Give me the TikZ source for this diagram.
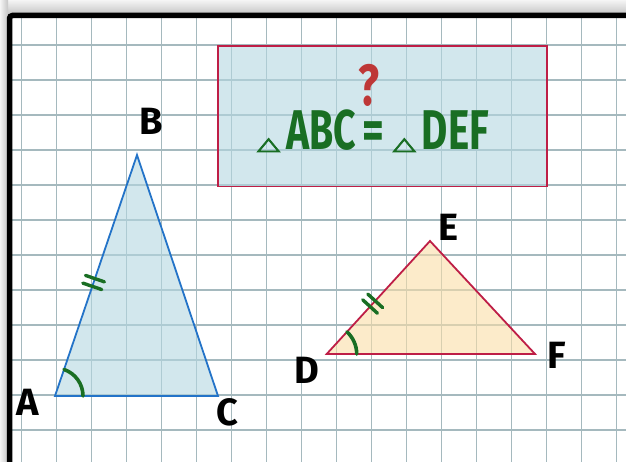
\documentclass[tikz,border=0pt]{standalone}
\usepackage{fontspec}
\newfontfamily\hand{Fira Sans}
\newfontfamily\symf[FakeBold=3]{DejaVu Sans}
\usetikzlibrary{calc,angles}
\definecolor{gridc}{RGB}{165,185,190}
\definecolor{triblue}{RGB}{35,115,200}
\definecolor{bluefill}{RGB}{180,215,225}
\definecolor{crim}{RGB}{190,30,70}
\definecolor{yelfill}{RGB}{250,223,167}
\definecolor{grn}{RGB}{25,110,35}
\definecolor{qred}{RGB}{190,55,55}
\newcommand{\smalltri}{{\symf\fontsize{30}{30}\selectfont\scalebox{1}[0.6]{△}}}
\tikzset{
  gridline/.style={draw=gridc, line width=1.4pt},
  lbl/.style={inner sep=0pt, font=\hand\bfseries\fontsize{38}{38}\selectfont, text=black},
  tickmark/.style={draw=grn, line width=3.4pt, line cap=round},
  anglemark/.style={draw=grn, line width=3.6pt, line cap=round},
}
\begin{document}
\begin{tikzpicture}[x=1pt,y=-1pt]
\useasboundingbox (0,0) rectangle (626,462);
% surroundings and shadow
\fill[gray!10] (0,0) rectangle (626,462);
\shade[top color=gray!8, bottom color=gray!45] (0,0) rectangle (626,14);
\shade[left color=gray!8, right color=gray!45] (0,0) rectangle (8,462);
% paper
\fill[white] (9.5,15.5) rectangle (626,462);
\foreach \i in {0,...,17} \draw[gridline] ({21.7+35*\i},15.5) -- ({21.7+35*\i},462);
\foreach \j in {0,...,11} \draw[gridline] (9.5,{45+35*\j}) -- (626,{45+35*\j});
\draw[line width=5.5pt, rounded corners=3pt] (9.5,462) -- (9.5,15.5) -- (626,15.5);
% box
\node[draw=crim, fill=bluefill, fill opacity=0.6, draw opacity=1, line width=1.6pt,
      minimum width=328.7pt, minimum height=140.7pt, anchor=north west, inner sep=0pt] (box) at (217.3,45) {};
\node[inner sep=0pt, text=grn, font=\hand\bfseries\fontsize{56}{56}\selectfont] (eq) at (373,131)
  {\smalltri\hspace{6pt}\scalebox{0.7}[1]{ABC}\hspace{7pt}\scalebox{0.75}[1]{=}\hspace{8pt}\smalltri\hspace{6pt}\scalebox{0.72}[1]{DEF}};
\node[inner sep=0pt, text=qred, font=\hand\bfseries\fontsize{58}{58}\selectfont] (q) at (369,85) {\scalebox{0.75}[1]{?}};
% triangle ABC
\coordinate (A) at (55,396);
\coordinate (B) at (137,155);
\coordinate (C) at (218,396);
\fill[bluefill, fill opacity=0.6] (A) -- (B) -- (C) -- cycle;
\draw[triblue, line width=1.8pt, line join=miter] (A) -- (B) -- (C) -- cycle;
% triangle DEF
\coordinate (D) at (326.7,354);
\coordinate (E) at (430,241);
\coordinate (F) at (535,354);
\fill[yelfill, fill opacity=0.6] (D) -- (E) -- (F) -- cycle;
\draw[crim, line width=1.8pt] (D) -- (E) -- (F) -- cycle;
% labels
\node[lbl] (lA) at (28,402) {A};
\node[lbl] (lB) at (151.7,121.7) {B};
\node[lbl] (lC) at (227,412) {C};
\node[lbl] (lD) at (307,370) {D};
\node[lbl] (lE) at (448,227) {E};
\node[lbl] (lF) at (557,355) {F};
% ticks on AB
\coordinate (t1) at ($(A)!0.455!(B)$);
\coordinate (t2) at ($(A)!0.487!(B)$);
\draw[tickmark] ($(t1)!10pt!90:(B)$) -- ($(t1)!10pt!-90:(B)$);
\draw[tickmark] ($(t2)!10pt!90:(B)$) -- ($(t2)!10pt!-90:(B)$);
% ticks on DE
\coordinate (u1) at ($(D)!0.42!(E)$);
\coordinate (u2) at ($(D)!0.47!(E)$);
\draw[tickmark] ($(u1)!10pt!90:(E)$) -- ($(u1)!10pt!-90:(E)$);
\draw[tickmark] ($(u2)!10pt!90:(E)$) -- ($(u2)!10pt!-90:(E)$);
% angle arcs
\pic[anglemark, angle radius=28pt] {angle=C--A--B};
\pic[anglemark, angle radius=30pt] {angle=F--D--E};
\end{tikzpicture}
\end{document}
